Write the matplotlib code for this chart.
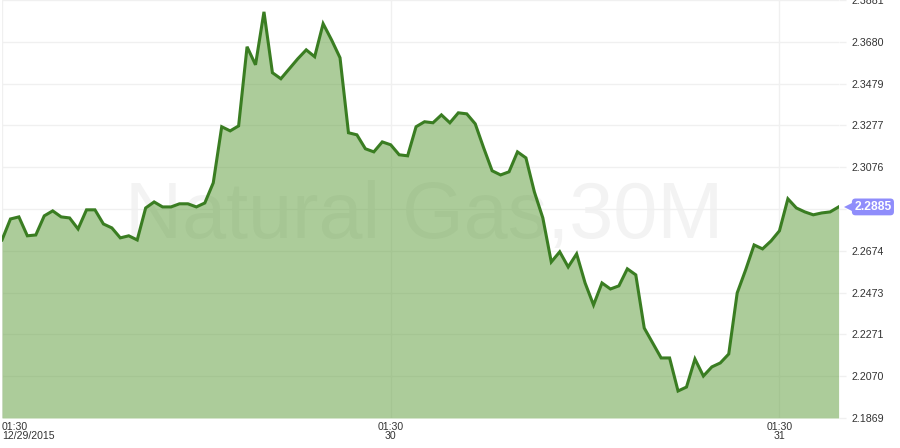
import matplotlib
matplotlib.use("Agg")
import matplotlib.pyplot as plt
import numpy as np

plt.rcParams['font.family'] = ['Liberation Sans', 'DejaVu Sans']

# 30-minute closes, Natural Gas, 12/29/2015 01:30 -> 12/31/2015
prices = [
    2.2726, 2.2827, 2.2837, 2.2746, 2.2750, 2.2842, 2.2866, 2.2837, 2.2832, 2.2779,
    2.2871, 2.2871, 2.2803, 2.2784, 2.2736, 2.2746, 2.2726, 2.2880, 2.2909, 2.2885,
    2.2885, 2.2900, 2.2900, 2.2885, 2.2904, 2.3001, 2.3271, 2.3251, 2.3275, 2.3656,
    2.3569, 2.3824, 2.3531, 2.3502, 2.3550, 2.3598, 2.3641, 2.3608, 2.3767, 2.3689,
    2.3603, 2.3242, 2.3232, 2.3165, 2.3150, 2.3198, 2.3184, 2.3136, 2.3131, 2.3271,
    2.3295, 2.3290, 2.3328, 2.3290, 2.3338, 2.3333, 2.3285, 2.3169, 2.3059, 2.3039,
    2.3054, 2.3150, 2.3121, 2.2957, 2.2832, 2.2620, 2.2669, 2.2596, 2.2659, 2.2519,
    2.2413, 2.2519, 2.2490, 2.2505, 2.2587, 2.2558, 2.2302, 2.2230, 2.2158, 2.2158,
    2.1999, 2.2018, 2.2153, 2.2071, 2.2115, 2.2134, 2.2177, 2.2471, 2.2582, 2.2702,
    2.2683, 2.2721, 2.2770, 2.2924, 2.2880, 2.2861, 2.2847, 2.2856, 2.2861, 2.2885,
]
x_tick_index = [0, 46, 92]
x_tick_labels = ["01:30\n12/29/2015", "01:30\n30", "01:30\n31"]
y_tick_labels = ["2.1869", "2.2070", "2.2271", "2.2473", "2.2674", "2.2876",
                 "2.3076", "2.3277", "2.3479", "2.3680", "2.3881"]
last_label = "2.2885"
watermark = "Natural Gas,30M"

W, H = 900, 448
fig = plt.figure(figsize=(W / 100, H / 100), dpi=100)
ax_w = 836.6
ax = fig.add_axes([2 / W, 30 / H, ax_w / W, 418 / H])

x = np.arange(len(prices))
yvals = [float(v) for v in y_tick_labels]
ymin, ymax = yvals[0], yvals[-1]

fig.text(424 / W, 210 / H, watermark, fontsize=57, color='#f3f3f3',
         ha='center', va='baseline', zorder=0)
ax.set_zorder(1)
ax.patch.set_alpha(0)

ax.fill_between(x, prices, ymin, color=(91 / 255, 155 / 255, 55 / 255),
                alpha=0.5, linewidth=0, zorder=2)
ax.plot(x, prices, color='#3a7d22', linewidth=2.2, solid_joinstyle='miter',
        zorder=3)

ax.set_xlim(0, len(prices) - 1)
ax.set_ylim(ymin, ymax)

ax.set_yticks(yvals)
labels = [("" if lab == "2.2876" else lab) for lab in y_tick_labels]
ax.set_yticklabels(labels)
ax.yaxis.tick_right()
ax.tick_params(axis='y', length=5, width=1, color='#f0f0f0', pad=4.3,
               labelsize=7.7, labelcolor='#333333')
ax.set_xticks(x_tick_index)
ax.set_xticklabels(x_tick_labels)
ax.tick_params(axis='x', length=0, pad=3, labelsize=7.6, labelcolor='#333333')
for t in ax.get_xticklabels():
    t.set_linespacing(0.85)
ax.get_xticklabels()[0].set_horizontalalignment('left')

ax.grid(True, color='#f0f0f0', linewidth=1, zorder=1)
ax.set_axisbelow(True)
for s in ax.spines.values():
    s.set_visible(False)

# last price marker
last = prices[-1]
box_color = '#8f8dfb'
ax.annotate(last_label, xy=(1, last), xycoords=('axes fraction', 'data'),
            xytext=(11.3, 0), textcoords='offset points',
            ha='left', va='center', fontsize=8.7, fontweight='bold',
            color='white', annotation_clip=False,
            bbox=dict(boxstyle='round,pad=0.2,rounding_size=0.3',
                      fc=box_color, ec='none'))
ax.plot([1.0 + 10.5 / ax_w], [last], marker='<', markersize=6.5,
        markeredgewidth=0, color=box_color,
        transform=ax.get_yaxis_transform(), clip_on=False, zorder=5)

fig.savefig('out.png', dpi=100)
